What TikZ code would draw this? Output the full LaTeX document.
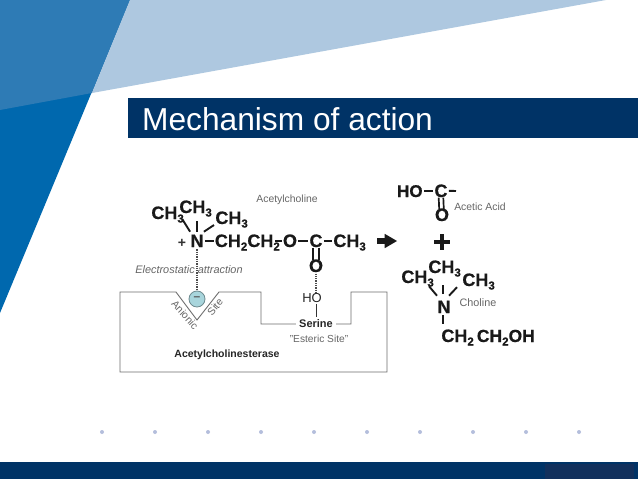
\documentclass[tikz,border=0pt]{standalone}
\usepackage{fontspec}
\setmainfont{Liberation Sans}
\newfontfamily\heavyfont{Liberation Sans Bold}[FakeBold=0.5]
\usetikzlibrary{calc}
\definecolor{navy}{HTML}{003366}
\definecolor{navybox}{HTML}{12305C}
\definecolor{bluemain}{HTML}{0068AE}
\definecolor{blueover}{HTML}{2E7BB5}
\definecolor{bluelight}{HTML}{AEC8E0}
\definecolor{dotblue}{HTML}{B4BEDC}
\definecolor{greytext}{HTML}{666666}
\definecolor{enzline}{HTML}{6E6E6E}
\definecolor{anion}{HTML}{A8D5DC}
\newcommand{\fsz}[1]{\fontsize{#1}{#1}\selectfont}
\newcommand{\lowsub}[1]{\raisebox{-3.5pt}{\fsz{11.5}#1}}
\tikzset{
  x=1pt,y=-1pt,
  atom/.style={inner sep=1.2pt,font=\fsz{18}\heavyfont,text=black!90},
  bondline/.style={line width=1.9pt,black!90},
  dbl/.style={line width=1.7pt,black!90},
  dots/.style={line width=1.8pt,dash pattern=on 1.3pt off 1pt,black!70},
  enz/.style={line width=.9pt,enzline},
  thin label/.style={inner sep=0pt,font=\fsz{10.4},text=greytext},
  dark label/.style={inner sep=1pt,font=\fsz{11}\bfseries,text=black!85},
  edot/.style={circle,fill=dotblue,minimum size=4pt,inner sep=0pt},
}
\begin{document}
\begin{tikzpicture}
\useasboundingbox (0,0) rectangle (638,479);
\fill[white] (0,0) rectangle (638,479);
% background shapes
\fill[bluemain] (0,0) -- (130,0) -- (0,313) -- cycle;
\fill[blueover] (0,0) -- (130,0) -- (92,93) -- (0,110) -- cycle;
\fill[bluelight] (130,0) -- (606,0) -- (92,93) -- cycle;
\fill[navy] (128,98) rectangle (638,138);
\node[anchor=base west,inner sep=0pt,text=white,font=\fsz{31.7}] (title) at (142,130) {Mechanism of action};
\fill[navy] (0,462) rectangle (638,479);
\fill[navybox] (545,464) rectangle (634,479);
\foreach \i/\px in {1/102,2/155,3/208,4/261,5/314,6/367,7/420,8/473,9/526,10/579}
  \node[edot] (dot\i) at (\px,432) {};
% enzyme outline
\coordinate (e1) at (120,292); \coordinate (e2) at (176,292); \coordinate (e3) at (197,320);
\coordinate (e4) at (219,292); \coordinate (e5) at (261,292); \coordinate (e6) at (261,324);
\coordinate (e7) at (351,324); \coordinate (e8) at (351,292); \coordinate (e9) at (387,292);
\coordinate (e10) at (387,372); \coordinate (e11) at (120,372);
\node[dark label,inner sep=3pt] (serine) at (316,324) {Serine};
\draw[enz,line join=miter] (serine.west) -- (e6) -- (e5) -- (e4) -- (e3) -- (e2) -- (e1) -- (e11) -- (e10) -- (e9) -- (e8) -- (e7) -- (serine.east);
\node[circle,draw=black!35!anion,fill=anion,line width=.8pt,minimum size=16pt,inner sep=0pt,font=\fsz{12}\bfseries,text=black!65] (anionic) at (197,299) {–};
\node[thin label,rotate=-48] (anlabel) at (185,315) {Anionic};
\node[thin label,rotate=50] (sitelabel) at (215,307) {Site};
\node[inner sep=0pt,font=\fsz{13},text=black!85] (ho) at (312,298) {HO};
\node[inner sep=0pt,font=\fsz{10.2},text=greytext] (esteric) at (319,339) {"Esteric Site"};
\node[inner sep=0pt,font=\fsz{10.5}\bfseries,text=black!85] (ache) at (227,355) {Acetylcholinesterase};
\node[inner sep=0pt,font=\fsz{10.9}\itshape,text=greytext] (electro) at (189,270) {Electrostatic attraction};
\node[thin label] (achname) at (287,200) {Acetylcholine};
% acetylcholine
\node[atom,anchor=base west] (cl) at (150,219) {CH\lowsub{3}};
\node[atom,anchor=base west] (ct) at (178,213) {CH\lowsub{3}};
\node[atom,anchor=base west] (cr) at (214,224) {CH\lowsub{3}};
\node[atom,anchor=base] (N) at (197,247) {N};
\node[inner sep=0pt,font=\fsz{14}\bfseries,text=black!80] (plus) at (182,243) {+};
\node[atom,anchor=base west] (ch2a) at (213.5,247) {CH\lowsub{2}};
\node[atom,anchor=base west] (ch2b) at (246,247) {CH\lowsub{2}};
\node[atom,anchor=base] (o1) at (290,247) {O};
\node[atom,anchor=base] (c1) at (316,247) {C};
\node[atom,anchor=base west] (ch3e) at (332,247) {CH\lowsub{3}};
\node[atom,anchor=base] (o2) at (316,272) {O};
\draw[bondline] ($(cl.south east)+(-3,-5)$) -- ($(N.north west)+(1,-1.5)$);
\draw[bondline] (N.north) ++(0,-1.5) -- ($(N.north |- ct.south)+(0,3)$);
\draw[bondline] ($(N.north east)+(-1,-1.5)$) -- ($(cr.south west)+(0,-4)$);
\draw[bondline] (N.east |- c1) -- (ch2a.west |- c1);
\draw[bondline] ($(ch2b.east |- o1)+(-6,0)$) -- (o1.west);
\draw[bondline] (o1.east) -- (c1.west);
\draw[bondline] (c1.east) -- (ch3e.west |- c1);
\draw[dbl] ($(c1.south)+(-2.8,-1)$) -- ($(o2.north)+(-2.8,2)$);
\draw[dbl] ($(c1.south)+(2.8,-1)$) -- ($(o2.north)+(2.8,2)$);
\draw[dots] (N.south) ++(0,1) -- (anionic.north);
\draw[dots] (o2.south) -- (o2.south |- ho.north);
\draw[line width=1pt,black!80] ($(ho.south)+(4.5,1)$) -- ($(serine.north)+(0.5,.5)$);
% reaction arrow
\coordinate (arrowtip) at (397,241);
\node[inner sep=0pt,minimum width=10pt,minimum height=6pt,fill=black!90] (shaft) at (381.5,241) {};
\fill[black!90] (shaft.north east) ++(-2,-4) -- (arrowtip) -- ($(shaft.south east)+(-2,4)$) -- cycle;
% acetic acid
\node[atom,anchor=base] (c2) at (441,197) {C};
\node[atom,anchor=base east,font=\fsz{17}\heavyfont] (ho2) at (424,197) {HO};
\node[atom,anchor=base] (o3) at (442,221) {O};
\coordinate (cfree) at (456,191);
\draw[bondline] (ho2.east |- c2) -- (c2.west);
\draw[bondline] (c2.east) -- (cfree);
\draw[dbl] ($(c2.south)+(-2.3,-1)$) -- ($(o3.north)+(-2.8,2)$);
\draw[dbl] ($(c2.south)+(2.3,-1)$) -- ($(o3.north)+(1.8,2)$);
\node[thin label] (aceticname) at (480,207) {Acetic Acid};
% plus
\node[inner sep=0pt,minimum width=16pt,minimum height=3.8pt,fill=black!90] (plush) at (442,242) {};
\node[inner sep=0pt,minimum width=3.8pt,minimum height=16pt,fill=black!90] (plusv) at (442,242) {};
% choline
\node[atom,anchor=base west] (dl) at (400,283) {CH\lowsub{3}};
\node[atom,anchor=base west] (dt) at (427,273) {CH\lowsub{3}};
\node[atom,anchor=base west] (dr) at (461,286) {CH\lowsub{3}};
\node[atom,anchor=base] (N2) at (444,313) {N};
\node[atom,anchor=base west] (dc1) at (440,342) {CH\lowsub{2}};
\node[atom,anchor=base west,font=\fsz{17.5}\heavyfont] (dc2) at (475.5,342) {CH\lowsub{2}OH};
\node[thin label,font=\fsz{10.8}] (cholname) at (478,303) {Choline};
\coordinate (nl) at ($(N2.north)+(-7,-3.5)$);
\draw[bondline] (nl) -- ($(N2.north)+(-15,-13)$);
\draw[bondline] ($(N2.north)+(-1,-5)$) -- ($(N2.north)+(-1,-14)$);
\draw[bondline] ($(N2.north)+(5,-3.5)$) -- ($(N2.north)+(13,-12)$);
\draw[bondline] ($(N2.south)+(-1,1)$) -- ($(N2.south)+(-1,10)$);
\end{tikzpicture}
\end{document}
